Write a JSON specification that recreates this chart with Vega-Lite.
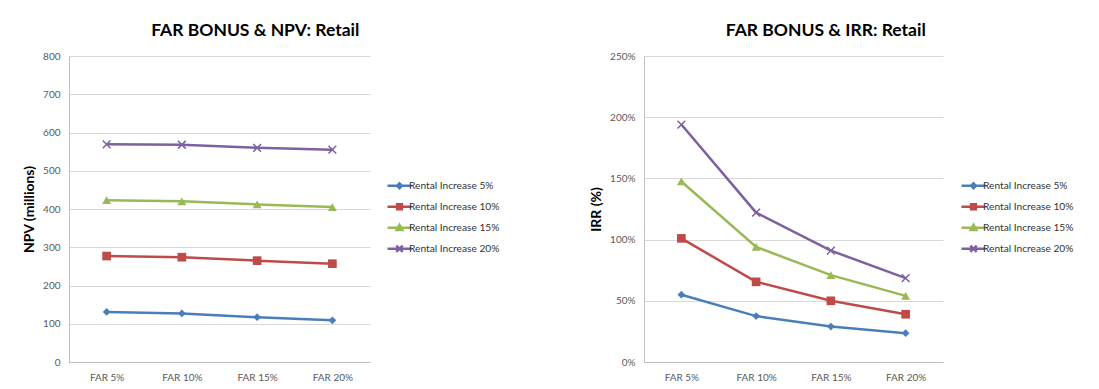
{
  "$schema": "https://vega.github.io/schema/vega-lite/v6.json",
  "background": "white",
  "padding": {"left": 22, "top": 21, "right": 0, "bottom": 0},
  "bounds": "flush",
  "spacing": 274,
  "config": {
    "font": "Lato",
    "view": {"stroke": null},
    "axis": {
      "labelFont": "Lato",
      "labelFontSize": 10,
      "labelColor": "#595959",
      "titleFont": "Lato",
      "titleFontSize": 14,
      "titleFontWeight": "bold",
      "titleColor": "#000000",
      "domainColor": "#bfbfbf",
      "gridColor": "#d9d9d9",
      "ticks": false,
      "labelPadding": 9
    },
    "title": {"font": "Lato", "fontSize": 17.5, "fontWeight": "bold", "color": "#000000", "frame": "bounds", "anchor": "middle", "offset": 12, "dx": -6},
    "legend": {
      "orient": "none",
      "title": null,
      "labelFont": "Lato",
      "labelFontSize": 10.2,
      "labelColor": "#333333",
      "symbolSize": 576,
      "symbolStrokeWidth": 2.5,
      "labelOffset": -4,
      "clipHeight": 19.5,
      "rowPadding": 1,
      "padding": 0
    }
  },
  "datasets": {
    "npv": [
      {"far": "FAR 5%", "series": "Rental Increase 5%", "value": 131},
      {"far": "FAR 10%", "series": "Rental Increase 5%", "value": 127},
      {"far": "FAR 15%", "series": "Rental Increase 5%", "value": 117},
      {"far": "FAR 20%", "series": "Rental Increase 5%", "value": 109},
      {"far": "FAR 5%", "series": "Rental Increase 10%", "value": 277},
      {"far": "FAR 10%", "series": "Rental Increase 10%", "value": 274},
      {"far": "FAR 15%", "series": "Rental Increase 10%", "value": 265},
      {"far": "FAR 20%", "series": "Rental Increase 10%", "value": 257},
      {"far": "FAR 5%", "series": "Rental Increase 15%", "value": 423},
      {"far": "FAR 10%", "series": "Rental Increase 15%", "value": 420},
      {"far": "FAR 15%", "series": "Rental Increase 15%", "value": 412},
      {"far": "FAR 20%", "series": "Rental Increase 15%", "value": 405},
      {"far": "FAR 5%", "series": "Rental Increase 20%", "value": 569},
      {"far": "FAR 10%", "series": "Rental Increase 20%", "value": 568},
      {"far": "FAR 15%", "series": "Rental Increase 20%", "value": 560},
      {"far": "FAR 20%", "series": "Rental Increase 20%", "value": 555}
    ],
    "irr": [
      {"far": "FAR 5%", "series": "Rental Increase 5%", "value": 0.55},
      {"far": "FAR 10%", "series": "Rental Increase 5%", "value": 0.375},
      {"far": "FAR 15%", "series": "Rental Increase 5%", "value": 0.29},
      {"far": "FAR 20%", "series": "Rental Increase 5%", "value": 0.235},
      {"far": "FAR 5%", "series": "Rental Increase 10%", "value": 1.01},
      {"far": "FAR 10%", "series": "Rental Increase 10%", "value": 0.655},
      {"far": "FAR 15%", "series": "Rental Increase 10%", "value": 0.5},
      {"far": "FAR 20%", "series": "Rental Increase 10%", "value": 0.39},
      {"far": "FAR 5%", "series": "Rental Increase 15%", "value": 1.475},
      {"far": "FAR 10%", "series": "Rental Increase 15%", "value": 0.94},
      {"far": "FAR 15%", "series": "Rental Increase 15%", "value": 0.71},
      {"far": "FAR 20%", "series": "Rental Increase 15%", "value": 0.54},
      {"far": "FAR 5%", "series": "Rental Increase 20%", "value": 1.94},
      {"far": "FAR 10%", "series": "Rental Increase 20%", "value": 1.22},
      {"far": "FAR 15%", "series": "Rental Increase 20%", "value": 0.91},
      {"far": "FAR 20%", "series": "Rental Increase 20%", "value": 0.685}
    ]
  },
  "hconcat": [
    {
      "title": "FAR BONUS & NPV: Retail",
      "width": 301,
      "height": 306,
      "data": {"name": "npv"},
      "encoding": {
        "x": {"field": "far", "type": "ordinal", "sort": ["FAR 5%", "FAR 10%", "FAR 15%", "FAR 20%"], "scale": {"type": "point", "padding": 0.5}, "axis": {"title": null, "labelAngle": 0, "grid": false, "labelPadding": 10}},
        "y": {"field": "value", "type": "quantitative", "scale": {"domain": [0, 800]}, "axis": {"title": "NPV (millions)", "values": [0, 100, 200, 300, 400, 500, 600, 700, 800], "titlePadding": 6}},
        "color": {
          "field": "series", "type": "nominal",
          "scale": {"domain": ["Rental Increase 5%", "Rental Increase 10%", "Rental Increase 15%", "Rental Increase 20%"], "range": ["#4a7ebb", "#be4b48", "#98b954", "#7d60a0"]},
          "legend": {
            "legendX": 317, "legendY": 120,
            "encode": {"symbols": {"update": {
              "shape": {"signal": "datum.value === 'Rental Increase 5%' ? 'M-1,0L1,0M0,-0.2L0.2,0L0,0.2L-0.2,0Z' : datum.value === 'Rental Increase 10%' ? 'M-1,0L1,0M-0.2,-0.2H0.2V0.2H-0.2Z' : datum.value === 'Rental Increase 15%' ? 'M-1,0L1,0M0,-0.24L0.24,0.18L-0.24,0.18Z' : 'M-1,0L1,0M-0.27,-0.27L0.27,0.27M-0.27,0.27L0.27,-0.27'"},
              "stroke": {"signal": "datum.value === 'Rental Increase 5%' ? '#4a7ebb' : datum.value === 'Rental Increase 10%' ? '#be4b48' : datum.value === 'Rental Increase 15%' ? '#98b954' : '#7d60a0'"},
              "fill": {"signal": "datum.value === 'Rental Increase 5%' ? '#4a7ebb' : datum.value === 'Rental Increase 10%' ? '#be4b48' : datum.value === 'Rental Increase 15%' ? '#98b954' : '#7d60a0'"},
              "strokeWidth": {"value": 2.5},
              "size": {"value": 576},
              "opacity": {"value": 1}
            }}}
          }
        }
      },
      "layer": [
        {"mark": {"type": "line", "strokeWidth": 2.5}},
        {"transform": [{"filter": "datum.series === 'Rental Increase 5%'"}], "mark": {"type": "point", "shape": "diamond", "filled": true, "size": 60, "opacity": 1}},
        {"transform": [{"filter": "datum.series === 'Rental Increase 10%'"}], "mark": {"type": "point", "shape": "square", "filled": true, "size": 75, "opacity": 1}},
        {"transform": [{"filter": "datum.series === 'Rental Increase 15%'"}], "mark": {"type": "point", "shape": "triangle-up", "filled": true, "size": 80, "opacity": 1}},
        {"transform": [{"filter": "datum.series === 'Rental Increase 20%'"}], "mark": {"type": "point", "shape": "M-1,-1L1,1M-1,1L1,-1", "filled": false, "size": 60, "strokeWidth": 1.5, "opacity": 1}}
      ]
    },
    {
      "title": "FAR BONUS & IRR: Retail",
      "width": 299,
      "height": 306,
      "data": {"name": "irr"},
      "encoding": {
        "x": {"field": "far", "type": "ordinal", "sort": ["FAR 5%", "FAR 10%", "FAR 15%", "FAR 20%"], "scale": {"type": "point", "padding": 0.5}, "axis": {"title": null, "labelAngle": 0, "grid": false, "labelPadding": 10}},
        "y": {"field": "value", "type": "quantitative", "scale": {"domain": [0, 2.5]}, "axis": {"title": "IRR (%)", "format": ".0%", "values": [0, 0.5, 1, 1.5, 2, 2.5], "titlePadding": 6}},
        "color": {
          "field": "series", "type": "nominal",
          "scale": {"domain": ["Rental Increase 5%", "Rental Increase 10%", "Rental Increase 15%", "Rental Increase 20%"], "range": ["#4a7ebb", "#be4b48", "#98b954", "#7d60a0"]},
          "legend": {
            "legendX": 316, "legendY": 120,
            "encode": {"symbols": {"update": {
              "shape": {"signal": "datum.value === 'Rental Increase 5%' ? 'M-1,0L1,0M0,-0.2L0.2,0L0,0.2L-0.2,0Z' : datum.value === 'Rental Increase 10%' ? 'M-1,0L1,0M-0.2,-0.2H0.2V0.2H-0.2Z' : datum.value === 'Rental Increase 15%' ? 'M-1,0L1,0M0,-0.24L0.24,0.18L-0.24,0.18Z' : 'M-1,0L1,0M-0.27,-0.27L0.27,0.27M-0.27,0.27L0.27,-0.27'"},
              "stroke": {"signal": "datum.value === 'Rental Increase 5%' ? '#4a7ebb' : datum.value === 'Rental Increase 10%' ? '#be4b48' : datum.value === 'Rental Increase 15%' ? '#98b954' : '#7d60a0'"},
              "fill": {"signal": "datum.value === 'Rental Increase 5%' ? '#4a7ebb' : datum.value === 'Rental Increase 10%' ? '#be4b48' : datum.value === 'Rental Increase 15%' ? '#98b954' : '#7d60a0'"},
              "strokeWidth": {"value": 2.5},
              "size": {"value": 576},
              "opacity": {"value": 1}
            }}}
          }
        }
      },
      "layer": [
        {"mark": {"type": "line", "strokeWidth": 2.5}},
        {"transform": [{"filter": "datum.series === 'Rental Increase 5%'"}], "mark": {"type": "point", "shape": "diamond", "filled": true, "size": 60, "opacity": 1}},
        {"transform": [{"filter": "datum.series === 'Rental Increase 10%'"}], "mark": {"type": "point", "shape": "square", "filled": true, "size": 75, "opacity": 1}},
        {"transform": [{"filter": "datum.series === 'Rental Increase 15%'"}], "mark": {"type": "point", "shape": "triangle-up", "filled": true, "size": 80, "opacity": 1}},
        {"transform": [{"filter": "datum.series === 'Rental Increase 20%'"}], "mark": {"type": "point", "shape": "M-1,-1L1,1M-1,1L1,-1", "filled": false, "size": 60, "strokeWidth": 1.5, "opacity": 1}}
      ]
    }
  ],
  "resolve": {"scale": {"color": "independent"}}
}
